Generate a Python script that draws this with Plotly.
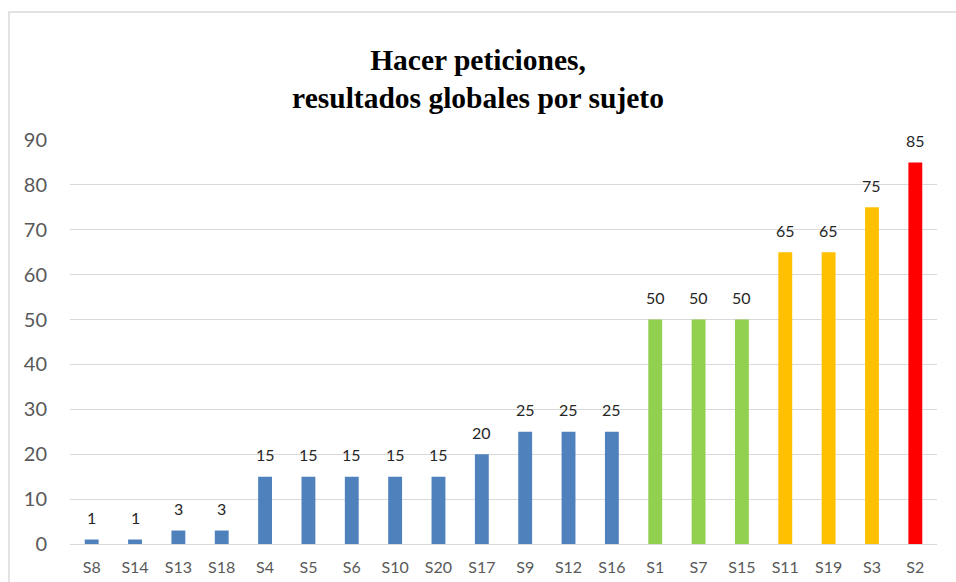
import plotly.graph_objects as go

subjects = ["S8", "S14", "S13", "S18", "S4", "S5", "S6", "S10", "S20", "S17",
            "S9", "S12", "S16", "S1", "S7", "S15", "S11", "S19", "S3", "S2"]
scores = [1, 1, 3, 3, 15, 15, 15, 15, 15, 20, 25, 25, 25, 50, 50, 50, 65, 65, 75, 85]
groups = ["low"] * 13 + ["mid"] * 3 + ["high"] * 3 + ["top"]

group_colors = {"low": "#4F81BD", "mid": "#92D050", "high": "#FFC000", "top": "#FF0000"}

fig = go.Figure()
fig.add_trace(
    go.Bar(
        x=subjects,
        y=scores,
        marker=dict(color=[group_colors[g] for g in groups], line=dict(width=0)),
        width=0.32,
        showlegend=False,
        hoverinfo="x+y",
    )
)

# value labels above bars
for s, v in zip(subjects, scores):
    fig.add_annotation(
        x=s, y=v, text=str(v), showarrow=False, yshift=22,
        font=dict(family="Lato, Carlito, sans-serif", size=16, color="#262626"),
    )

# chart border
fig.add_shape(
    type="rect", xref="paper", yref="paper",
    x0=-0.0704, x1=1.2, y0=-0.3, y1=1.3168,
    line=dict(color="#D9D9D9", width=1.5), layer="below",
)

fig.update_layout(
    width=956,
    height=582,
    paper_bgcolor="white",
    plot_bgcolor="white",
    margin=dict(l=70, r=19, t=140, b=38, autoexpand=False),
    title=dict(
        text="<b>Hacer peticiones,<br>resultados globales por sujeto</b>",
        x=0.5, xanchor="center", y=0.88, yanchor="middle",
        font=dict(family="Liberation Serif, Times New Roman, serif", size=29.5, color="black"),
    ),
    font=dict(family="Lato, Carlito, sans-serif"),
)

fig.update_yaxes(
    range=[0, 90],
    dtick=10,
    showgrid=True,
    gridcolor="#D9D9D9",
    gridwidth=1.3,
    zeroline=True,
    zerolinecolor="#D9D9D9",
    zerolinewidth=1.3,
    showline=False,
    ticks="",
    automargin=False,
    ticklabelstandoff=22,
    tickfont=dict(size=20, color="#595959"),
)
fig.update_xaxes(
    showgrid=False,
    showline=False,
    ticks="",
    automargin=False,
    ticklabelstandoff=12,
    tickfont=dict(size=16, color="#595959"),
)

fig.write_html(
    "out.html",
    config={"displayModeBar": False},
    post_script="document.body.style.margin='0';",
)
